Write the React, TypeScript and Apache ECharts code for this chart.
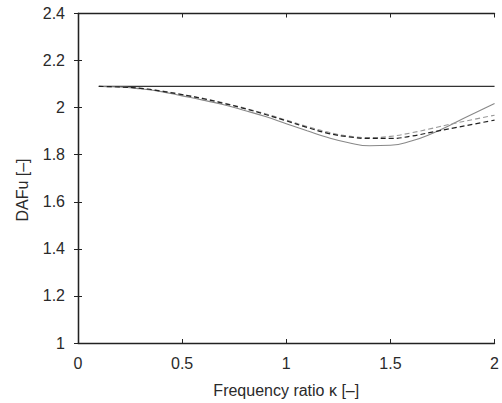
import React, { useEffect, useRef } from "react";
import * as echarts from "echarts";

const xs = [0.1, 0.2, 0.3, 0.4, 0.5, 0.6, 0.7, 0.8, 0.9, 1.0, 1.1, 1.2, 1.3, 1.4, 1.5, 1.6, 1.7, 1.8, 1.9, 2.0];
const staticLevel = [2.09, 2.09, 2.09, 2.09, 2.09, 2.09, 2.09, 2.09, 2.09, 2.09, 2.09, 2.09, 2.09, 2.09, 2.09, 2.09, 2.09, 2.09, 2.09, 2.09];
const graySolid = [2.09, 2.088, 2.08, 2.068, 2.05, 2.032, 2.012, 1.988, 1.962, 1.932, 1.902, 1.873, 1.851, 1.838, 1.84, 1.858, 1.89, 1.932, 1.975, 2.018];
const blackDashed = [2.09, 2.088, 2.082, 2.07, 2.055, 2.038, 2.018, 1.996, 1.971, 1.944, 1.916, 1.891, 1.876, 1.869, 1.869, 1.879, 1.896, 1.913, 1.93, 1.947];
const grayDashed = [2.09, 2.088, 2.082, 2.071, 2.056, 2.04, 2.02, 1.998, 1.974, 1.947, 1.92, 1.896, 1.879, 1.873, 1.878, 1.893, 1.912, 1.932, 1.95, 1.968];

const xTicks = { min: 0, max: 2, interval: 0.5 };
const yTicks = { min: 1, max: 2.4, interval: 0.2 };

const pairs = (ys: number[]) => xs.map((x, i) => [x, ys[i]]);

export default function App() {
  const ref = useRef<HTMLDivElement>(null);
  useEffect(() => {
    if (!ref.current) return;
    const chart = echarts.init(ref.current, null, { renderer: "svg" });
    const font = "Liberation Sans, Arial, sans-serif";
    const axisColor = "#222";
    const textColor = "#2a2a2a";
    const fmt = (v: number) => String(Math.round(v * 10) / 10);
    chart.setOption({
      animation: false,
      backgroundColor: "#fff",
      grid: { left: 78, right: 3, top: 13.5, bottom: 58, show: false },
      xAxis: [
        {
          type: "value",
          ...xTicks,
          position: "bottom",
          axisLine: { show: true, lineStyle: { color: axisColor, width: 1.3 } },
          axisTick: { show: true, inside: true, length: 4, lineStyle: { color: axisColor } },
          splitLine: { show: false },
          axisLabel: { color: textColor, fontSize: 16, fontFamily: font, margin: 12, formatter: fmt },
          name: "Frequency ratio κ [–]",
          nameLocation: "middle",
          nameGap: 39,
          nameTextStyle: { color: textColor, fontSize: 16, fontFamily: font },
        },
        {
          type: "value",
          ...xTicks,
          position: "top",
          axisLine: { show: true, lineStyle: { color: axisColor, width: 1.3 } },
          axisTick: { show: true, inside: true, length: 4, lineStyle: { color: axisColor } },
          splitLine: { show: false },
          axisLabel: { show: false },
        },
      ],
      yAxis: [
        {
          type: "value",
          ...yTicks,
          position: "left",
          axisLine: { show: true, lineStyle: { color: axisColor, width: 1.3 } },
          axisTick: { show: true, inside: true, length: 4, lineStyle: { color: axisColor } },
          splitLine: { show: false },
          axisLabel: { color: textColor, fontSize: 16, fontFamily: font, margin: 13, formatter: fmt },
        },
        {
          type: "value",
          ...yTicks,
          position: "right",
          axisLine: { show: true, lineStyle: { color: axisColor, width: 1.3 } },
          axisTick: { show: true, inside: true, length: 4, lineStyle: { color: axisColor } },
          splitLine: { show: false },
          axisLabel: { show: false },
        },
      ],
      graphic: [
        {
          type: "text",
          x: 22,
          y: 190,
          rotation: Math.PI / 2,
          style: {
            text: "DAFu [–]",
            fill: textColor,
            fontSize: 16,
            fontFamily: font,
            align: "center",
            verticalAlign: "middle",
          },
        },
      ],
      series: [
        {
          type: "line",
          data: pairs(staticLevel),
          symbol: "none",
          lineStyle: { color: "#333", width: 1.3 },
          z: 3,
        },
        {
          type: "line",
          data: pairs(graySolid),
          symbol: "none",
          smooth: true,
          lineStyle: { color: "#888", width: 1.1 },
        },
        {
          type: "line",
          data: pairs(grayDashed),
          symbol: "none",
          smooth: true,
          lineStyle: { color: "#999", width: 1.1, type: [5, 3] },
        },
        {
          type: "line",
          data: pairs(blackDashed),
          symbol: "none",
          smooth: true,
          lineStyle: { color: "#222", width: 1.2, type: [5, 3] },
        },
      ],
    });
    return () => chart.dispose();
  }, []);
  return <div ref={ref} style={{ position: "fixed", left: 0, top: 0, width: 502, height: 403 }} />;
}
